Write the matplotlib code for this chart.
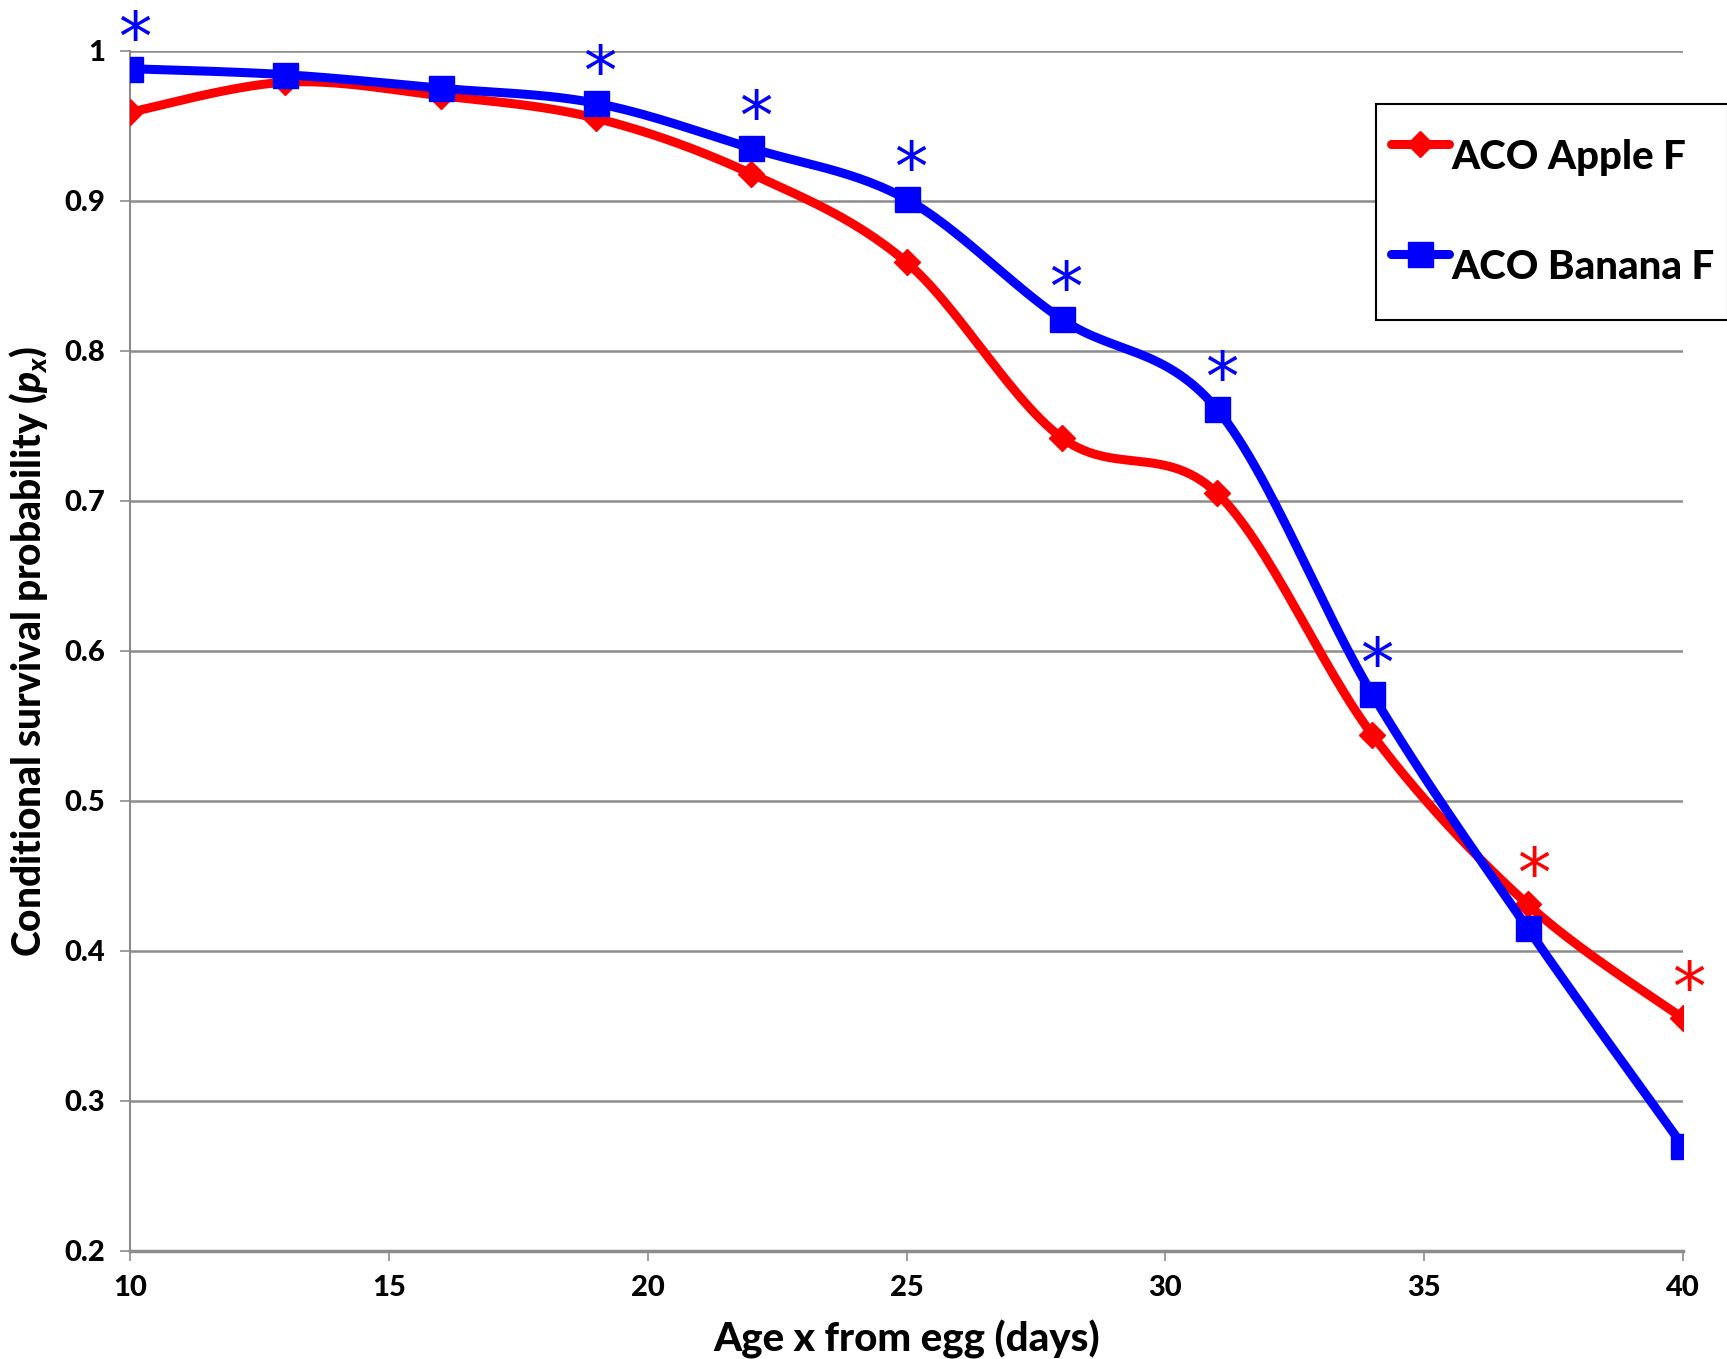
import numpy as np
import matplotlib
matplotlib.use('Agg')
import matplotlib.pyplot as plt
from matplotlib.lines import Line2D

age = [10, 13, 16, 19, 22, 25, 28, 31, 34, 37, 40]
apple = [0.959, 0.979, 0.970, 0.955, 0.918, 0.859, 0.742, 0.705, 0.544, 0.431, 0.355]
banana = [0.988, 0.984, 0.975, 0.965, 0.935, 0.901, 0.821, 0.761, 0.571, 0.415, 0.270]
# ages where the difference is significant, and which series is higher there
star_blue = [10, 19, 22, 25, 28, 31, 34]
star_red = [37, 40]

plt.rcParams['font.family'] = ['Lato', 'DejaVu Sans']
plt.rcParams['mathtext.fontset'] = 'custom'
plt.rcParams['mathtext.it'] = 'Lato:italic:black'
plt.rcParams['mathtext.rm'] = 'Lato:black'


def smooth(x, y, n=30):
    # catmull-rom style bezier, like the spreadsheet "smoothed line"
    x = np.asarray(x, float)
    y = np.asarray(y, float)
    px = np.concatenate([[x[0]], x, [x[-1]]])
    py = np.concatenate([[y[0]], y, [y[-1]]])
    xs, ys = [], []
    t = np.linspace(0, 1, n)
    for i in range(1, len(px) - 2):
        p0 = np.array([px[i], py[i]])
        p3 = np.array([px[i + 1], py[i + 1]])
        c1 = p0 + (np.array([px[i + 1], py[i + 1]]) - np.array([px[i - 1], py[i - 1]])) / 6
        c2 = p3 - (np.array([px[i + 2], py[i + 2]]) - np.array([px[i], py[i]])) / 6
        b = ((1 - t) ** 3)[:, None] * p0 + (3 * (1 - t) ** 2 * t)[:, None] * c1 \
            + (3 * (1 - t) * t ** 2)[:, None] * c2 + (t ** 3)[:, None] * p3
        xs.extend(b[:, 0])
        ys.extend(b[:, 1])
    return xs, ys


fig = plt.figure(figsize=(17.27, 13.59), dpi=100)
ax = fig.add_axes([0.0753, 0.0795, 0.8992, 0.8832])

sx, sy = smooth(age, apple)
ax.plot(sx, sy, color='#ff0000', lw=6.5, solid_capstyle='round', zorder=3)
ax.plot(age, apple, color='#ff0000', linestyle='None', marker='D', markersize=13, zorder=4)

sx, sy = smooth(age, banana)
ax.plot(sx, sy, color='#0000ff', lw=6.5, solid_capstyle='round', zorder=5)
ax.plot(age, banana, color='#0000ff', linestyle='None', marker='s', markersize=18, zorder=6)

for a in star_blue:
    v = banana[age.index(a)]
    ax.annotate('*', (a, v), xytext=(3, 20), textcoords='offset points', ha='center', va='center',
                color='#0000ff', fontsize=48, family='DejaVu Sans', annotation_clip=False)
for a in star_red:
    v = apple[age.index(a)]
    ax.annotate('*', (a, v), xytext=(4, 20), textcoords='offset points', ha='center', va='center',
                color='#ff0000', fontsize=48, family='DejaVu Sans', annotation_clip=False)

ax.set_xlim(10, 40)
ax.set_ylim(0.2, 1.0)
ax.set_xticks([10, 15, 20, 25, 30, 35, 40])
ax.set_yticks([0.2, 0.3, 0.4, 0.5, 0.6, 0.7, 0.8, 0.9, 1.0])
ax.set_yticklabels(['0.2', '0.3', '0.4', '0.5', '0.6', '0.7', '0.8', '0.9', '1'])
ax.yaxis.grid(True, color='#8c8c8c', lw=1.8)
ax.set_axisbelow(True)
for s in ['top', 'right']:
    ax.spines[s].set_visible(False)
ax.spines['left'].set_color('#8c8c8c')
ax.spines['left'].set_linewidth(1.5)
ax.spines['bottom'].set_color('#8c8c8c')
ax.spines['bottom'].set_linewidth(2.5)
ax.tick_params(axis='both', colors='#8c8c8c', length=7, width=1.2, direction='out')
ax.tick_params(axis='both', labelcolor='black', labelsize=21)
ax.tick_params(axis='y', pad=11)
ax.tick_params(axis='x', pad=10)
for lb in ax.get_xticklabels() + ax.get_yticklabels():
    lb.set_fontweight('black')

ax.set_xlabel('Age x from egg (days)', fontsize=29, fontweight='black', labelpad=14)
ax.set_ylabel('Conditional survival probability ($p_x$)', fontsize=28, fontweight='black', labelpad=10)

handles = [Line2D([], [], color='#ff0000', lw=6.5, marker='D', markersize=13, solid_capstyle='round'),
           Line2D([], [], color='#0000ff', lw=6.5, marker='s', markersize=18, solid_capstyle='round')]
leg = fig.legend(handles, ['ACO Apple F', 'ACO Banana F'], loc='upper left',
                 bbox_to_anchor=(0.797, 0.9235), fancybox=False, framealpha=1,
                 edgecolor='black', prop={'size': 29, 'weight': 'black'},
                 handlelength=1.45, handleheight=2.6, handletextpad=0.05, labelspacing=0.8,
                 borderpad=0.35, borderaxespad=0)
leg.get_frame().set_linewidth(1.5)

fig.savefig('out.png', dpi=100)
